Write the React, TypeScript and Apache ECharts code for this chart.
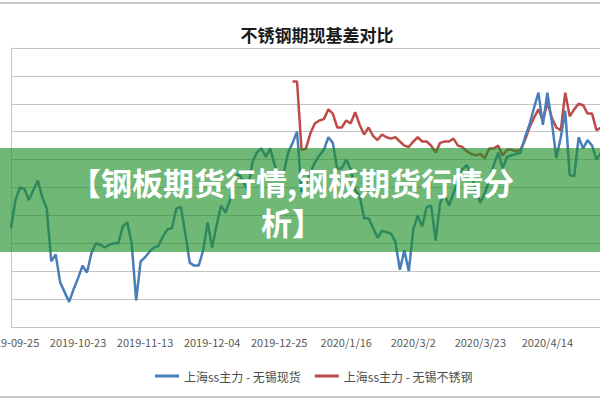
import React, { useEffect, useRef } from "react";
import * as echarts from "echarts";

const tickLabels = [
  "2019-09-25",
  "2019-10-23",
  "2019-11-13",
  "2019-12-04",
  "2019-12-25",
  "2020/1/16",
  "2020/3/2",
  "2020/3/23",
  "2020/4/14",
];
const pointsPerTick = 15;

const seriesNames = ["上海ss主力 - 无锡现货", "上海ss主力 - 无锡不锈钢"];

// 上海ss主力 - 无锡现货
const spotBasis = [
  -290, -90, 0, -10, -90, -20, 50, -70, -150, -530,
  -480, -680, -750, -820, -730, -650, -560, -610, -470, -400,
  -410, -430, -410, -400, -400, -280, -250, -400, -810, -530,
  -500, -460, -430, -420, -350, -300, -290, -150, -140, -330,
  -540, -560, -560, -450, -250, -430, -270, -130, -180, -90,
  70, 100, 40, -20, 180, 250, 280, 220, 280, 160,
  80, 100, 250, 320, 400, -30, 30, 110, 180, 230,
  270, 360, 320, 130, 140, 200, 130, -20, -60, -220,
  -220, -290, -360, -310, -320, -330, -390, -590, -450, -600,
  -300, -200, -280, -140, -130, -380, -110, -50, -130, -40,
  50, 130, 160, 90, -20, -110, -40, 50, 160, 250,
  140, 220, 230, 240, 250, 360, 450, 570, 680, 450,
  680, 470, 210, 360, 550, 90, 80, 360, 280, 340,
  300, 200, 250,
];

// 上海ss主力 - 无锡不锈钢 (starts at point 63)
const steelStart = 63;
const steelBasis = [
  760, 760, 270, 280, 390, 460, 480,
  490, 560, 530, 430, 430, 480, 460, 540, 450, 380,
  430, 370, 340, 380, 360, 350, 360, 330, 300, 290,
  330, 360, 330, 330, 300, 250, 320, 330, 330, 350,
  300, 290, 260, 240, 230, 240, 210, 280, 280, 300,
  230, 270, 270, 260, 270, 340, 430, 500, 560, 480,
  610, 500, 430, 410, 680, 510, 560, 600, 590, 530,
  530, 410, 430,
];

const categories = spotBasis.map((_, i) =>
  i % pointsPerTick === 0 && tickLabels[i / pointsPerTick]
    ? tickLabels[i / pointsPerTick]
    : `d${i}`
);
const steelData = spotBasis.map((_, i) =>
  i < steelStart ? null : steelBasis[i - steelStart] ?? null
);

const chartTitle = "不锈钢期现基差对比";
const bannerLines = ["【钢板期货行情,钢板期货行情分", "析】"];

export default function App() {
  const ref = useRef<HTMLDivElement>(null);

  useEffect(() => {
    document.body.style.margin = "0";
    if (!ref.current) return;
    const chart = echarts.init(ref.current, null, { renderer: "svg" });
    const grid = "#c4c4c4";
    const bannerStyle = {
      fill: "#ffffff",
      fontSize: 31,
      lineHeight: 36,
      fontWeight: "bold",
      fontFamily: "Noto Sans CJK SC",
      align: "center",
      verticalAlign: "middle",
    };
    chart.setOption({
      animation: false,
      backgroundColor: "#ffffff",
      title: {
        text: chartTitle,
        left: 312,
        top: 21,
        textAlign: "center",
        textStyle: {
          fontFamily: "Noto Sans CJK SC",
          fontSize: 17,
          fontWeight: "bold",
          color: "#1a1a1a",
        },
      },
      legend: {
        left: 155,
        top: 370,
        padding: 0,
        itemWidth: 24,
        itemHeight: 3,
        itemGap: 14,
        icon: "rect",
        data: seriesNames,
        textStyle: {
          fontFamily: "Noto Sans CJK SC",
          fontSize: 12,
          color: "#4d4d4d",
        },
      },
      grid: {
        left: 11,
        right: -1,
        top: 48,
        bottom: 73,
        containLabel: false,
        outerBoundsMode: "none",
      },
      xAxis: {
        type: "category",
        data: categories,
        boundaryGap: false,
        axisLine: { show: true, lineStyle: { color: grid, width: 1 } },
        axisTick: { show: false },
        axisLabel: {
          interval: pointsPerTick - 1,
          margin: 9,
          fontSize: 11,
          color: "#595959",
          fontFamily: "Noto Sans CJK SC",
        },
        splitLine: { show: false },
      },
      yAxis: {
        type: "value",
        min: -1000,
        max: 1000,
        interval: 200,
        axisLine: { show: true, lineStyle: { color: grid, width: 1 } },
        axisTick: { show: false },
        axisLabel: { show: false },
        splitLine: { show: true, lineStyle: { color: grid, width: 1 } },
      },
      series: [
        {
          name: seriesNames[0],
          type: "line",
          data: spotBasis,
          symbol: "none",
          color: "#4a7ebb",
          lineStyle: { width: 2.5, color: "#4a7ebb" },
          z: 3,
        },
        {
          name: seriesNames[1],
          type: "line",
          data: steelData,
          symbol: "none",
          connectNulls: false,
          color: "#be4b48",
          lineStyle: { width: 2.5, color: "#be4b48" },
          z: 2,
        },
      ],
      graphic: [
        {
          type: "line",
          z: 100,
          shape: { x1: 0, y1: 3, x2: 600, y2: 3 },
          style: { stroke: "#c8c8c8", lineWidth: 2 },
        },
        {
          type: "line",
          z: 100,
          shape: { x1: 0, y1: 397, x2: 600, y2: 397 },
          style: { stroke: "#c8c8c8", lineWidth: 2 },
        },
        {
          type: "rect",
          z: 100,
          shape: { x: 0, y: 148, width: 600, height: 104 },
          style: { fill: "rgba(28,143,38,0.63)" },
        },
        {
          type: "text",
          z: 101,
          x: 292,
          y: 181,
          style: { ...bannerStyle, text: bannerLines[0] },
        },
        {
          type: "text",
          z: 101,
          x: 292,
          y: 221,
          style: { ...bannerStyle, text: bannerLines[1] },
        },
      ],
    });
    return () => chart.dispose();
  }, []);

  return <div ref={ref} style={{ width: 600, height: 400 }} />;
}
